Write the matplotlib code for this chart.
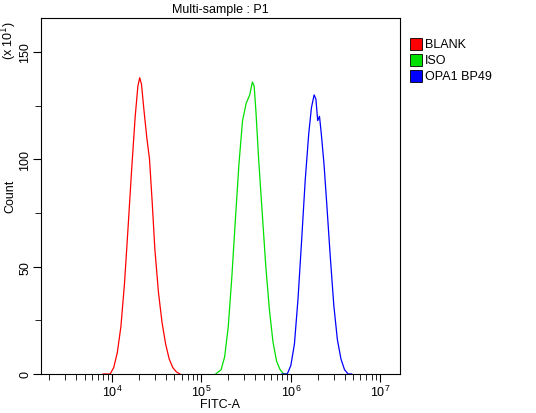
import matplotlib
matplotlib.use("Agg")
import matplotlib.pyplot as plt
import numpy as np
from matplotlib.patches import Rectangle
from matplotlib.ticker import LogLocator, NullFormatter, MultipleLocator

plt.rcParams['font.family'] = ['Liberation Sans', 'DejaVu Sans']

red_logx = [3.90, 3.98, 4.02, 4.06, 4.10, 4.14, 4.18, 4.22, 4.26, 4.29, 4.31, 4.33, 4.36, 4.39, 4.42, 4.45, 4.48, 4.52, 4.56, 4.60, 4.64, 4.68, 4.72, 4.76]
red_cnt =  [0, 0, 3, 10, 22, 42, 68, 95, 120, 134, 138, 135, 122, 110, 100, 80, 58, 38, 24, 14, 7, 3, 1, 0]
green_logx = [5.16, 5.22, 5.26, 5.30, 5.34, 5.38, 5.42, 5.46, 5.50, 5.54, 5.57, 5.59, 5.61, 5.64, 5.68, 5.72, 5.76, 5.80, 5.84, 5.88, 5.92, 5.96]
green_cnt =  [0, 2, 8, 22, 45, 72, 98, 118, 126, 130, 136, 134, 122, 100, 75, 50, 30, 15, 6, 2, 0, 0]
blue_logx = [5.90, 5.96, 6.00, 6.04, 6.08, 6.12, 6.16, 6.20, 6.23, 6.26, 6.28, 6.30, 6.32, 6.34, 6.37, 6.40, 6.44, 6.48, 6.52, 6.56, 6.60, 6.64, 6.68]
blue_cnt =  [0, 0, 4, 14, 35, 62, 90, 112, 124, 130, 128, 118, 120, 112, 98, 80, 55, 32, 16, 7, 2, 0, 0]

series = [("BLANK", "#ff0000", red_logx, red_cnt),
          ("ISO", "#00e000", green_logx, green_cnt),
          ("OPA1 BP49", "#0000ff", blue_logx, blue_cnt)]

fig = plt.figure(figsize=(5.36, 4.14), dpi=100)
ax = fig.add_axes([41/536, 39/414, 359/536, 356/414])
for name, c, lx, cnt in series:
    ax.plot(10**np.array(lx), cnt, color=c, lw=0.9)

ax.set_xscale('log')
ax.set_xlim(10**3.207, 10**7.22)
ax.set_ylim(0, 165.8)
ax.xaxis.set_major_locator(LogLocator(base=10, numticks=10))
ax.xaxis.set_minor_locator(LogLocator(base=10, subs=np.arange(2, 10), numticks=20))
ax.xaxis.set_minor_formatter(NullFormatter())
ax.yaxis.set_major_locator(MultipleLocator(50))
ax.yaxis.set_minor_locator(MultipleLocator(25))
ax.tick_params(axis='both', which='major', length=6, labelsize=9, direction='out', pad=1)
ax.tick_params(axis='both', which='minor', length=4, direction='out')
for lab in ax.get_yticklabels():
    lab.set_rotation(90)
    lab.set_va('center')
ax.set_title("Multi-sample : P1", fontsize=9, pad=4)
fig.text(220/536, 1-405/414, "FITC-A", fontsize=9, ha='center', va='center')
fig.text(10/536, 1-196/414, "Count", rotation=90, fontsize=9, ha='center', va='center')
fig.text(9/536, 1-40/414, r"(x 10$^1$)", rotation=90, fontsize=9, ha='center', va='center')

for i, (name, c, lx, cnt) in enumerate(series):
    y = 1 - (45 + i*16)/414
    fig.patches.append(Rectangle((410/536, y-6/414), 12/536, 12/414, transform=fig.transFigure,
                                 facecolor=c, edgecolor='black', lw=0.6))
    fig.text(425/536, y, name, fontsize=9, va='center')

fig.savefig("out.png", dpi=100)
